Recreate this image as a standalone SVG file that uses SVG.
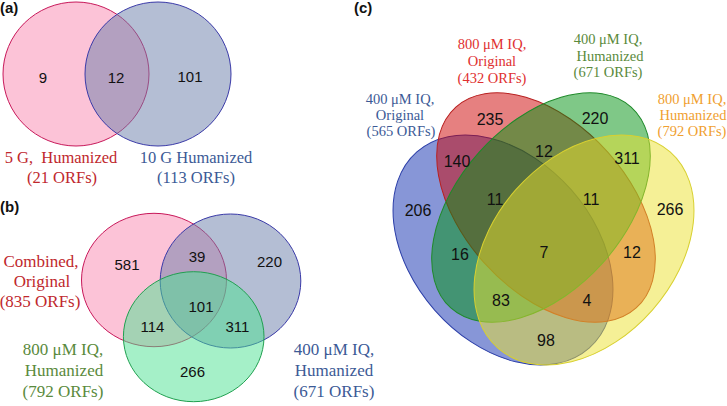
<svg xmlns="http://www.w3.org/2000/svg" width="727" height="406" viewBox="0 0 727 406">
<style>
.tag{font-family:"Liberation Sans",Arial,sans-serif;font-weight:bold;font-size:15px;fill:#111}
.num{font-family:"Liberation Sans",Arial,sans-serif;font-size:15px;fill:#111;text-anchor:middle}
.numc{font-family:"Liberation Sans",Arial,sans-serif;font-size:16px;fill:#111;text-anchor:middle}
.lab{font-family:"Liberation Serif","Times New Roman",serif;font-size:16.5px;text-anchor:middle}
.labb{font-family:"Liberation Serif","Times New Roman",serif;font-size:17px;text-anchor:middle}
.labc{font-family:"Liberation Serif","Times New Roman",serif;font-size:14.5px;text-anchor:middle}
.red{fill:#c0282d}.blu{fill:#3c5a96}.grn{fill:#5a8a3c}.org{fill:#f0a030}.redc{fill:#e03030}
.pink{fill:#f987af;fill-opacity:0.5;stroke:#c8185a;stroke-width:1}
.gblue{fill:#697da9;fill-opacity:0.5;stroke:#3a3aa8;stroke-width:1}
.mint{fill:#4be191;fill-opacity:0.5;stroke:#20a050;stroke-width:1}
.e-blue{fill:#0f2daf;fill-opacity:0.5;stroke:#2b3ea8;stroke-width:1}
.e-red{fill:#cd0101;fill-opacity:0.5;stroke:#b82020;stroke-width:1}
.e-green{fill:#00910f;fill-opacity:0.5;stroke:#1f8a2a;stroke-width:1}
.e-yellow{fill:#ebe12d;fill-opacity:0.5;stroke:#d8d030;stroke-width:1}
</style>

<g id="panel-a">
  <text class="tag" x="0" y="13">(a)</text>
  <g id="a-set-5G">
    <ellipse class="pink" cx="76" cy="74" rx="73" ry="72"/>
  </g>
  <g id="a-set-10G">
    <ellipse class="gblue" cx="158" cy="74" rx="73" ry="72"/>
  </g>
  <text class="num" x="43" y="83">9</text>
  <text class="num" x="116" y="83">12</text>
  <text class="num" x="190" y="82">101</text>
  <text class="lab red" x="61" y="163" xml:space="preserve">5 G,  Humanized</text>
  <text class="lab red" x="62" y="183">(21 ORFs)</text>
  <text class="lab blu" x="196" y="163">10 G Humanized</text>
  <text class="lab blu" x="196" y="183">(113 ORFs)</text>
</g>

<g id="panel-b">
  <text class="tag" x="0" y="212">(b)</text>
  <g id="b-set-combined">
    <ellipse class="pink" cx="154" cy="280" rx="72.5" ry="66.7"/>
  </g>
  <g id="b-set-400">
    <ellipse class="gblue" cx="230.5" cy="281" rx="70.3" ry="67"/>
  </g>
  <g id="b-set-800">
    <ellipse class="mint" cx="193.7" cy="336.7" rx="70.3" ry="65"/>
  </g>
  <text class="num" x="127" y="269.5">581</text>
  <text class="num" x="197" y="261.5">39</text>
  <text class="num" x="269.5" y="266.5">220</text>
  <text class="num" x="201" y="311.5">101</text>
  <text class="num" x="152.5" y="331.5">114</text>
  <text class="num" x="237.5" y="331.5">311</text>
  <text class="num" x="192.5" y="376.5">266</text>
  <text class="labb red" x="41" y="267">Combined,</text>
  <text class="labb red" x="42" y="287">Original</text>
  <text class="labb red" x="40" y="307">(835 ORFs)</text>
  <text class="labb grn" x="63" y="355">800 μM IQ,</text>
  <text class="labb grn" x="64" y="376">Humanized</text>
  <text class="labb grn" x="63" y="397">(792 ORFs)</text>
  <text class="labb blu" x="334" y="355">400 μM IQ,</text>
  <text class="labb blu" x="334" y="376">Humanized</text>
  <text class="labb blu" x="334" y="397">(671 ORFs)</text>
</g>

<g id="panel-c">
  <text class="tag" x="354" y="13">(c)</text>
  <g id="c-set-400-original">
    <ellipse class="e-blue" cx="503" cy="250" rx="130.5" ry="91" transform="rotate(48.7 503 250)"/>
  </g>
  <g id="c-set-800-original">
    <ellipse class="e-red" cx="546" cy="207.5" rx="135" ry="83" transform="rotate(48.1 546 207.5)"/>
  </g>
  <g id="c-set-400-humanized">
    <ellipse class="e-green" cx="541" cy="207.5" rx="135" ry="83" transform="rotate(-48.1 541 207.5)"/>
  </g>
  <g id="c-set-800-humanized">
    <ellipse class="e-yellow" cx="584" cy="250" rx="130.5" ry="91" transform="rotate(-48.7 584 250)"/>
  </g>
  <text class="numc" x="490" y="124.7">235</text>
  <text class="numc" x="457" y="166.7">140</text>
  <text class="numc" x="495" y="204.7">11</text>
  <text class="numc" x="418" y="215.7">206</text>
  <text class="numc" x="544" y="156.7">12</text>
  <text class="numc" x="595" y="123.7">220</text>
  <text class="numc" x="627" y="163.7">311</text>
  <text class="numc" x="591" y="204.7">11</text>
  <text class="numc" x="670" y="214.7">266</text>
  <text class="numc" x="460" y="259.7">16</text>
  <text class="numc" x="544" y="257.7">7</text>
  <text class="numc" x="632" y="257.7">12</text>
  <text class="numc" x="501" y="305.7">83</text>
  <text class="numc" x="587" y="305.7">4</text>
  <text class="numc" x="546" y="345.7">98</text>
  <text class="labc redc" x="492" y="49">800 μM IQ,</text>
  <text class="labc redc" x="492" y="66">Original</text>
  <text class="labc redc" x="492" y="83">(432 ORFs)</text>
  <text class="labc grn" x="608" y="44">400 μM IQ,</text>
  <text class="labc grn" x="610" y="61">Humanized</text>
  <text class="labc grn" x="608" y="77">(671 ORFs)</text>
  <text class="labc blu" x="400" y="104">400 μM IQ,</text>
  <text class="labc blu" x="400" y="120">Original</text>
  <text class="labc blu" x="401" y="136">(565 ORFs)</text>
  <text class="labc org" x="692" y="104">800 μM IQ,</text>
  <text class="labc org" x="693" y="120">Humanized</text>
  <text class="labc org" x="692" y="136">(792 ORFs)</text>
</g>
</svg>
